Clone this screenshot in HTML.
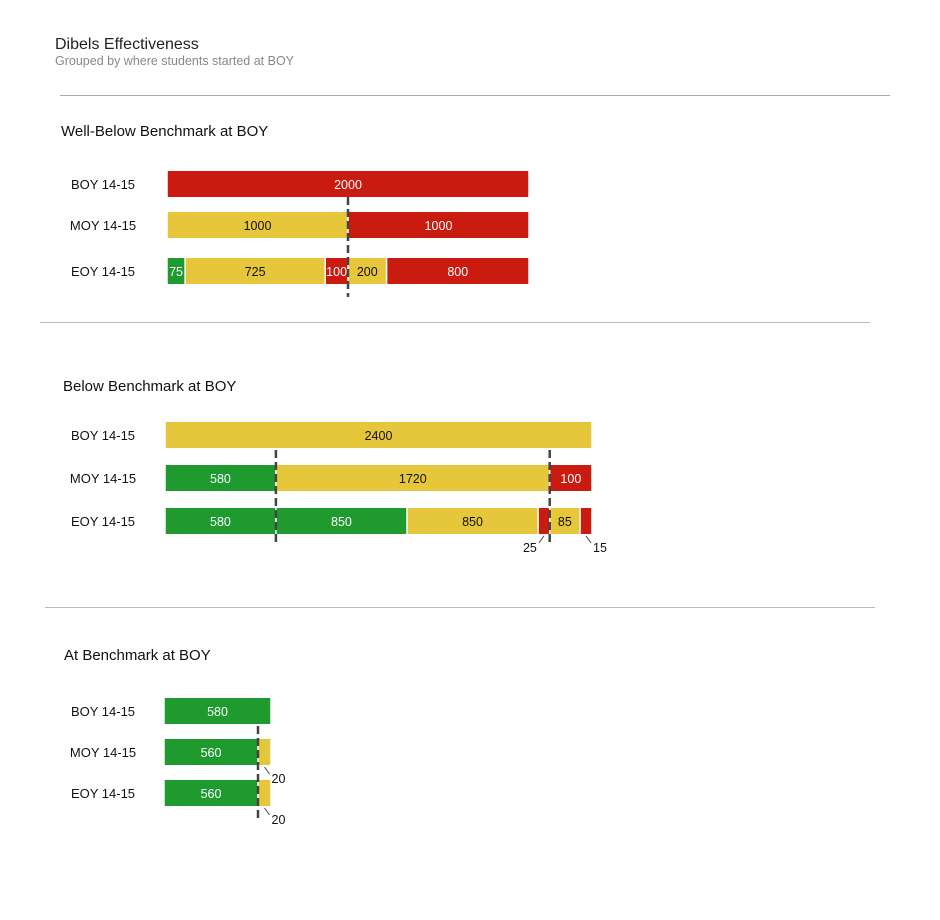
<!DOCTYPE html>
<html><head><meta charset="utf-8"><style>
html,body{margin:0;padding:0;background:#fff;}
svg{display:block;font-family:"Liberation Sans",Arial,sans-serif;}
</style></head><body>
<svg id="chart" width="940" height="920" viewBox="0 0 940 920">
<text x="55" y="49" font-size="16" fill="#222">Dibels Effectiveness</text>
<text x="55" y="65" font-size="12.5" fill="#888">Grouped by where students started at BOY</text>
<line x1="60" y1="95.5" x2="890" y2="95.5" stroke="#aaa"/>
<line x1="40" y1="322.5" x2="870" y2="322.5" stroke="#bbb"/>
<line x1="45" y1="607.5" x2="875" y2="607.5" stroke="#bbb"/>
</svg>
<script>
// Row labels
const rowLabels = ["BOY 14-15", "MOY 14-15", "EOY 14-15"];
const panelTitles = ["Well-Below Benchmark at BOY", "Below Benchmark at BOY", "At Benchmark at BOY"];
// Panel 1 data: each row is a list of groups (aligned to segments of previous row)
const p1Boy = [[{v:2000,c:"R"}]];
const p1Moy = [[{v:1000,c:"Y"},{v:1000,c:"R"}]];
const p1Eoy = [[{v:75,c:"G"},{v:725,c:"Y"},{v:100,c:"R"}],[{v:200,c:"Y"},{v:800,c:"R"}]];
// Panel 2
const p2Boy = [[{v:2400,c:"Y"}]];
const p2Moy = [[{v:580,c:"G"},{v:1720,c:"Y"},{v:100,c:"R"}]];
const p2Eoy = [[{v:580,c:"G"}],[{v:850,c:"G"},{v:850,c:"Y"},{v:25,c:"R"}],[{v:85,c:"Y"},{v:15,c:"R"}]];
// Panel 3
const p3Boy = [[{v:580,c:"G"}]];
const p3Moy = [[{v:560,c:"G"},{v:20,c:"Y"}]];
const p3Eoy = [[{v:560,c:"G"}],[{v:20,c:"Y"}]];

const colors = {R:"#c91b10", Y:"#e6c63b", G:"#1e9a2f"};
const textCol = {R:"#fff", Y:"#111", G:"#fff"};
const NS = "http://www.w3.org/2000/svg";
const svg = document.getElementById("chart");
const OUTSIDE_BELOW = 50; // values below this get an outside label

const panels = [
  {title:panelTitles[0], tx:61, ty:136, x0:167, w:362, rows:[p1Boy,p1Moy,p1Eoy], mins:[0,0,4], ys:[171,212,258], h:26, dash:[197,297]},
  {title:panelTitles[1], tx:63, ty:391, x0:165, w:427, rows:[p2Boy,p2Moy,p2Eoy], mins:[0,28,8], ys:[422,465,508], h:26, dash:[450,545]},
  {title:panelTitles[2], tx:64, ty:660, x0:164, w:107, rows:[p3Boy,p3Moy,p3Eoy], mins:[0,10,8], ys:[698,739,780], h:26, dash:[726,822]}
];

function mk(tag, attrs){ const e=document.createElementNS(NS,tag); for(const k in attrs) e.setAttribute(k,attrs[k]); return e; }

panels.forEach((p, pi) => {
  const t = mk("text",{x:p.tx,y:p.ty,"font-size":15,fill:"#111"});
  t.textContent = p.title;
  
  
  svg.appendChild(t);
  let parents = [[p.x0, p.x0 + p.w]];
  p.rows.forEach((groups, ri) => {
    const y = p.ys[ri];
    const lab = mk("text",{x:103,y:y+p.h/2+5,"font-size":13,fill:"#111","text-anchor":"middle"});
    lab.textContent = rowLabels[ri];
    
    
    svg.appendChild(lab);
    const newParents = [];
    const minw = p.mins[ri];
    groups.forEach((grp, gi) => {
      const span = parents[gi] || parents[parents.length-1];
      const tot = grp.reduce((a,s)=>a+s.v,0);
      const base = grp.length>1 ? minw : 0;
      const avail = (span[1]-span[0]) - base*grp.length;
      let x = span[0];
      const scale = avail / tot;
      grp.forEach((s, si) => {
        const sw = base + s.v * scale;
        const r = mk("rect",{x:x+0.75,y:y,width:Math.max(sw-1.5,0.5),height:p.h,fill:colors[s.c]});
        
        
        svg.appendChild(r);
        const isLastInRow = (gi===groups.length-1 && si===grp.length-1);
        if (s.v >= OUTSIDE_BELOW) {
          const tx = mk("text",{x:x+sw/2,y:y+p.h/2+5,"font-size":12.5,fill:textCol[s.c],"text-anchor":"middle"});
          tx.textContent = s.v;
          
          
          svg.appendChild(tx);
        } else {
          const cx = x + sw/2, by = y + p.h;
          const dir = isLastInRow ? 1 : -1;
          const ln = mk("line",{x1:cx,y1:by+2,x2:cx+dir*5,y2:by+9,stroke:"#444","stroke-width":1});
          
          
          svg.appendChild(ln);
          const tx = mk("text",{x:cx+dir*7,y:by+18,"font-size":12.5,fill:"#111","text-anchor":isLastInRow?"start":"end"});
          tx.textContent = s.v;
          
          
          svg.appendChild(tx);
        }
        if (ri===1) newParents.push([x, x+sw]);
        x += sw;
      });
    });
    if (ri===1) parents = newParents;
  });
  for (let i=0;i<parents.length-1;i++){
    const bx = parents[i][1];
    const d = mk("line",{x1:bx,y1:p.dash[0],x2:bx,y2:p.dash[1],stroke:"#444","stroke-width":2.5,"stroke-dasharray":"8,4"});
    
    
    svg.appendChild(d);
  }
});
</script>
</body></html>
